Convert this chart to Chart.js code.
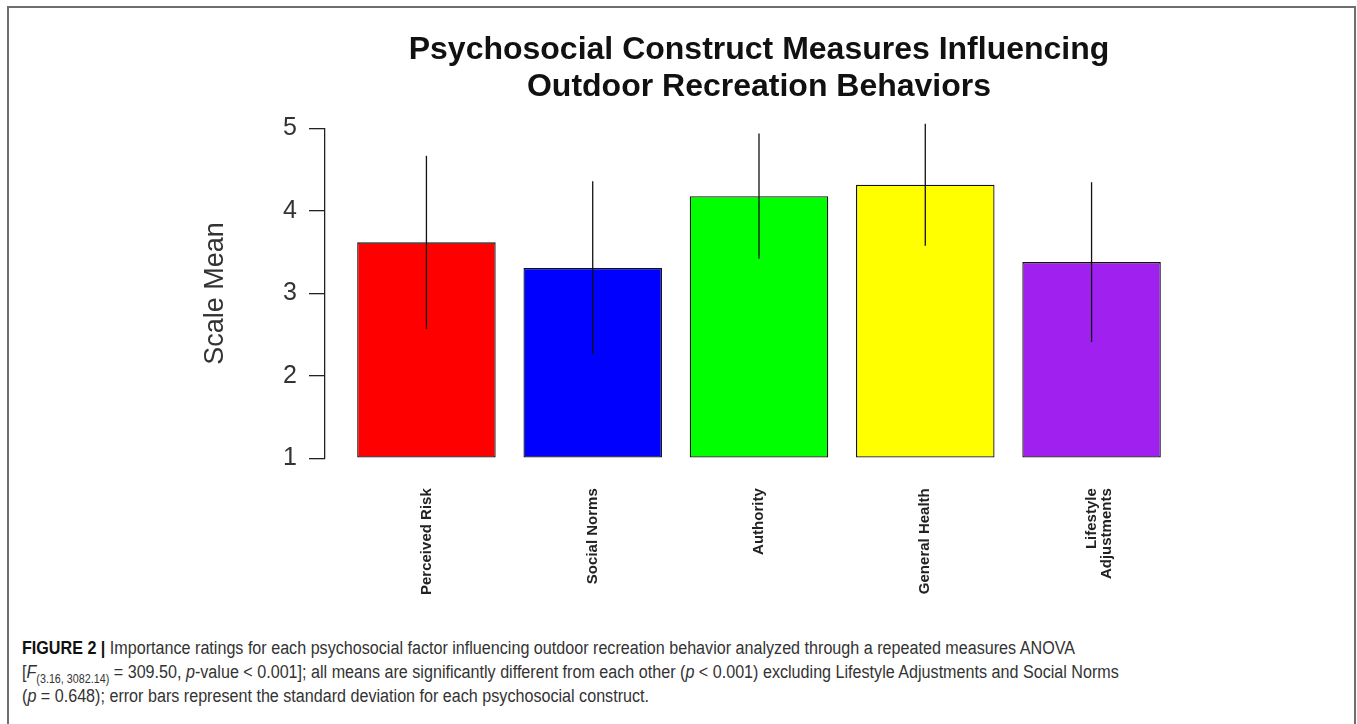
<!DOCTYPE html>
<html>
<head>
<meta charset="utf-8">
<script src="https://cdn.jsdelivr.net/npm/chart.js@4.4.1/dist/chart.umd.min.js"></script>
<style>
  body { margin: 0; background: #fff; }
  #frame {
    position: absolute; left: 7px; top: 6px; width: 1345px; height: 740px;
    border: 2px solid #6e6e6e; border-bottom: none;
  }
  #wrap { position: absolute; left: 0; top: 0; width: 1357px; height: 617px; }
  #caption {
    position: absolute; left: 22px; top: 636px;
    font-family: "Liberation Sans", Arial, sans-serif;
    font-size: 18px; line-height: 24px; color: #333; white-space: nowrap;
    transform-origin: 0 0;
  }
  #caption b { color: #111; }
  #caption sub { font-size: 12px; line-height: 0; }
</style>
</head>
<body>
<div id="frame"></div>
<div id="wrap"><canvas id="myChart"></canvas></div>
<div id="caption">
  <span id="line1"><b>FIGURE 2 |</b> Importance ratings for each psychosocial factor influencing outdoor recreation behavior analyzed through a repeated measures ANOVA</span><br>
  [<i>F</i><sub>(3.16, 3082.14)</sub> = 309.50, <i>p</i>-value &lt; 0.001]; all means are significantly different from each other (<i>p</i> &lt; 0.001) excluding Lifestyle Adjustments and Social Norms<br>
  (<i>p</i> = 0.648); error bars represent the standard deviation for each psychosocial construct.
</div>
<script>
document.addEventListener('DOMContentLoaded', (event) => {
    var categories = ["Perceived Risk", "Social Norms", "Authority", "General Health", ["Lifestyle", "Adjustments"]];
    var means = [3.62, 3.31, 4.18, 4.32, 3.38];
    var sds = [1.05, 1.05, 0.76, 0.74, 0.97];
    var yTicks = [1, 2, 3, 4, 5];
    var barColors = ["#FF0000", "#0000FF", "#00FF00", "#FFFF00", "#A020F0"];

    // caption font is condensed in the original: squeeze the first line to its width
    var cap = document.getElementById('caption');
    var w1 = document.getElementById('line1').getBoundingClientRect().width;
    cap.style.transform = 'scaleX(' + (1053 / w1) + ')';

    // R barplot midpoints (width 1, space 0.2)
    var mids = categories.map((c, i) => 0.7 + 1.2 * i);

    // vertical lines from mean - sd to mean + sd
    var errorBars = {
        id: 'errorBars',
        afterDatasetsDraw(chart) {
            var ctx = chart.ctx;
            var y = chart.scales.y;
            chart.getDatasetMeta(0).data.forEach((bar, i) => {
                ctx.save();
                ctx.strokeStyle = '#111';
                ctx.lineWidth = 1.3;
                ctx.beginPath();
                ctx.moveTo(bar.x, y.getPixelForValue(means[i] + sds[i]));
                ctx.lineTo(bar.x, y.getPixelForValue(means[i] - sds[i]));
                ctx.stroke();
                ctx.restore();
            });
        }
    };

    new Chart("myChart", {
        type: "bar",
        data: {
            datasets: [{
                data: means.map((m, i) => ({ x: mids[i], y: m })),
                backgroundColor: barColors,
                borderColor: '#111',
                borderWidth: 1.3,
                borderSkipped: false,
                base: 1,
                barPercentage: 0.833,
                categoryPercentage: 1
            }]
        },
        options: {
            responsive: true,
            maintainAspectRatio: false,
            animation: false,
            layout: { padding: { left: 190, right: 164, top: 32, bottom: 0 } },
            plugins: {
                legend: { display: false },
                tooltip: { enabled: false },
                title: {
                    display: true,
                    fullSize: false,
                    text: ["Psychosocial Construct Measures Influencing", "Outdoor Recreation Behaviors"],
                    color: '#111',
                    font: { family: "Liberation Sans", size: 32, weight: 'bold', lineHeight: 1.15 },
                    padding: { top: 0, bottom: 23 }
                }
            },
            scales: {
                x: {
                    type: 'linear',
                    offset: false,
                    min: -0.032,
                    max: 6.232,
                    grid: { display: false },
                    border: { display: false },
                    afterBuildTicks: (scale) => { scale.ticks = mids.map(v => ({ value: v })); },
                    ticks: {
                        autoSkip: false,
                        minRotation: 90,
                        maxRotation: 90,
                        padding: 22,
                        color: '#222',
                        font: { family: "Liberation Sans", size: 15, weight: 'bold', lineHeight: 1.05 },
                        callback: (value, index) => categories[index]
                    }
                },
                y: {
                    min: 1,
                    max: 5,
                    afterFit: (scale) => { scale.width = 135; },
                    afterBuildTicks: (scale) => { scale.ticks = yTicks.map(v => ({ value: v })); },
                    border: { display: true, color: '#222', width: 1.3 },
                    grid: { drawOnChartArea: false, tickLength: 16, color: '#222', lineWidth: 1.3 },
                    ticks: {
                        padding: 12,
                        color: '#333',
                        font: { family: "Liberation Sans", size: 25 }
                    },
                    title: {
                        display: true,
                        text: "Scale Mean",
                        color: '#333',
                        font: { family: "Liberation Sans", size: 27 },
                        padding: { top: 9 }
                    }
                }
            }
        },
        plugins: [errorBars]
    });
});
</script>
</body>
</html>
